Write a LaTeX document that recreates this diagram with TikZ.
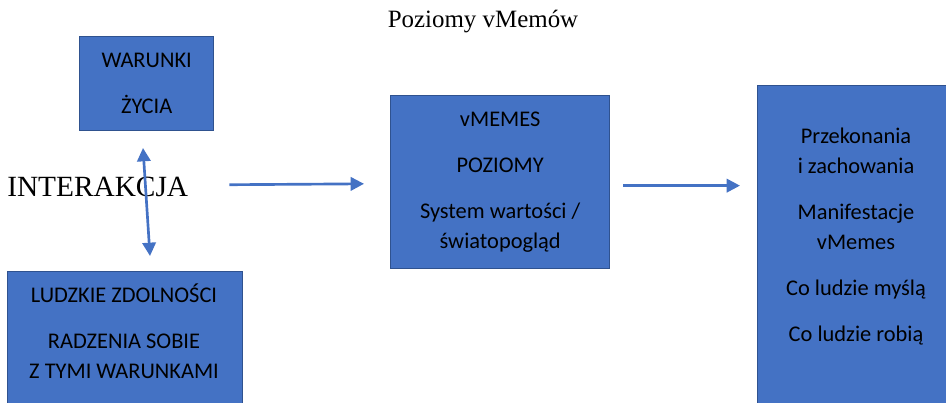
\documentclass[tikz,border=0pt]{standalone}
\usepackage{fontspec}
\setmainfont{Liberation Serif}
\newfontfamily\boxfont{Carlito}
\usetikzlibrary{arrows.meta, positioning}

\definecolor{boxblue}{HTML}{4472C4}
\definecolor{boxedge}{HTML}{2F528F}

\tikzset{
    box/.style={draw=boxedge, fill=boxblue, line width=1pt, inner sep=0pt,
        anchor=north west, align=center,
        font=\boxfont\fontsize{16.8}{22.5}\selectfont},
    boxtext/.style={align=center, inner sep=0pt,
        font=\boxfont\fontsize{16.8}{22.5}\selectfont},
    flow/.style={draw=boxblue, line width=2pt,
        -{Triangle[length=10pt, width=10pt]}},
}

\begin{document}
\begin{tikzpicture}[x=0.75pt, y=-0.75pt]
            \useasboundingbox (0,0) rectangle (946,403);
            \clip (0,0) rectangle (946,403);

            \node[font=\fontsize{18.7}{22}\selectfont] (title) at (483,22) {Poziomy vMemów};

            \node[box, minimum width=100.5pt, minimum height=70.5pt] (warunki) at (79,36)
                {WARUNKI\\[12pt]ŻYCIA};
            \node[box, minimum width=176.25pt, minimum height=150pt] (zdolnosci) at (7,271) {};
                \node[boxtext] (zdolnoscitxt) at (124,331.5)
                    {LUDZKIE ZDOLNOŚCI\\[12pt]RADZENIA SOBIE\\Z TYMI WARUNKAMI};
            \node[box, minimum width=164.25pt, minimum height=129.75pt] (vmemes) at (390,95)
                {vMEMES\\[12pt]POZIOMY\\[12pt]System wartości /\\światopogląd};
            \node[box, minimum width=150pt, minimum height=250pt] (manifest) at (757,85) {};
                \node[boxtext] (manifesttxt) at (856,236.5)
                    {Przekonania\\i zachowania\\[12pt]Manifestacje\\vMemes\\[12pt]Co ludzie myślą\\[12pt]Co ludzie robią};

            \node[font=\fontsize{22}{26}\selectfont, anchor=west, inner sep=0pt] (interakcja) at (7,187) {INTERAKCJA};

            \coordinate (intTop) at (143,148);
            \coordinate (intBot) at (150,256);
            \draw[flow, {Triangle[length=10pt, width=10pt]}-{Triangle[length=10pt, width=10pt]}] (intTop) -- (intBot);

            \draw[flow, shorten <=30.75pt, shorten >=19.5pt] ([yshift=1.5pt]interakcja.east) -- ([yshift=-1.1pt]vmemes.west);
            \draw[flow, shorten <=9.75pt, shorten >=12.75pt] ([yshift=-2.6pt]vmemes.east) -- ([yshift=-2.6pt]vmemes.east -| manifest.west);
      \end{tikzpicture}
\end{document}
